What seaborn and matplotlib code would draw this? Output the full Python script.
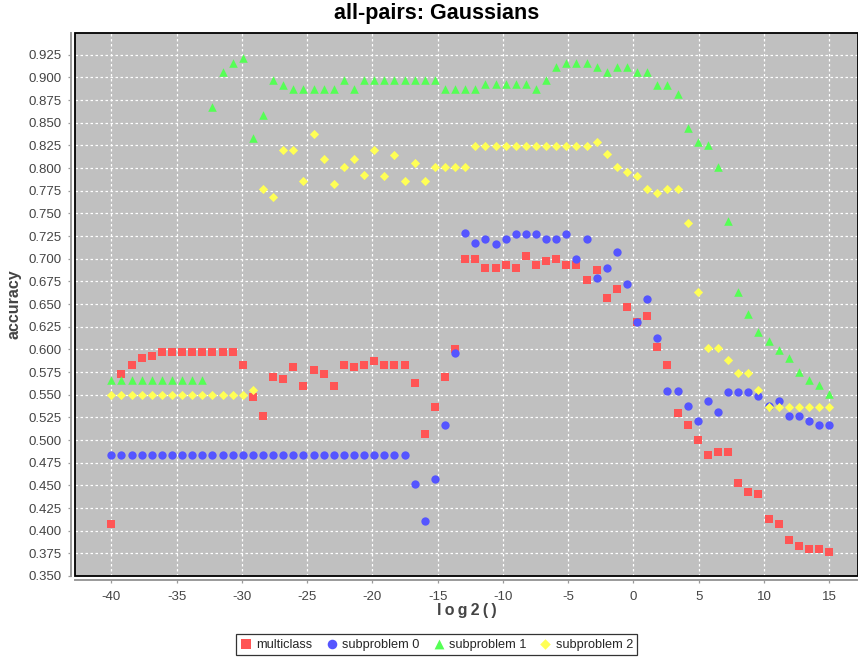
import numpy as np
import pandas as pd
import seaborn as sns
import matplotlib
matplotlib.use("Agg")
import matplotlib.pyplot as plt
from matplotlib.patches import Rectangle
from matplotlib.ticker import FixedLocator, FormatStrFormatter

# log2 sweep of the Gaussian width parameter
log2_gamma = np.linspace(-40, 15, 72)

multiclass = [
    0.407, 0.573, 0.583, 0.590, 0.593, 0.597, 0.597, 0.597, 0.597, 0.597,
    0.597, 0.597, 0.597, 0.583, 0.547, 0.527, 0.570, 0.567, 0.580, 0.560,
    0.577, 0.573, 0.560, 0.583, 0.580, 0.583, 0.587, 0.583, 0.583, 0.583,
    0.563, 0.507, 0.536, 0.570, 0.600, 0.700, 0.700, 0.690, 0.690, 0.693,
    0.690, 0.703, 0.693, 0.697, 0.700, 0.693, 0.693, 0.677, 0.687, 0.657,
    0.667, 0.647, 0.630, 0.637, 0.603, 0.583, 0.530, 0.517, 0.500, 0.483,
    0.487, 0.487, 0.453, 0.443, 0.440, 0.413, 0.407, 0.390, 0.383, 0.380,
    0.380, 0.377,
]

subproblem_0 = [
    0.484, 0.484, 0.484, 0.484, 0.484, 0.484, 0.484, 0.484, 0.484, 0.484,
    0.484, 0.484, 0.484, 0.484, 0.484, 0.484, 0.484, 0.484, 0.484, 0.484,
    0.484, 0.484, 0.484, 0.484, 0.484, 0.484, 0.484, 0.484, 0.484, 0.484,
    0.452, 0.411, 0.457, 0.516, 0.596, 0.728, 0.717, 0.722, 0.716, 0.722,
    0.727, 0.727, 0.727, 0.722, 0.722, 0.727, 0.700, 0.722, 0.679, 0.690,
    0.707, 0.672, 0.630, 0.656, 0.613, 0.554, 0.554, 0.538, 0.521, 0.543,
    0.531, 0.553, 0.553, 0.553, 0.548, 0.538, 0.543, 0.527, 0.527, 0.521,
    0.516, 0.516,
]

subproblem_1 = [
    0.566, 0.566, 0.566, 0.566, 0.566, 0.566, 0.566, 0.566, 0.566, 0.566,
    0.867, 0.906, 0.916, 0.921, 0.833, 0.858, 0.897, 0.892, 0.887, 0.887,
    0.887, 0.887, 0.887, 0.897, 0.887, 0.897, 0.897, 0.897, 0.897, 0.897,
    0.897, 0.897, 0.897, 0.887, 0.887, 0.887, 0.887, 0.893, 0.893, 0.893,
    0.893, 0.893, 0.887, 0.897, 0.911, 0.916, 0.916, 0.916, 0.911, 0.906,
    0.911, 0.911, 0.906, 0.906, 0.892, 0.892, 0.882, 0.844, 0.829, 0.825,
    0.801, 0.742, 0.663, 0.639, 0.619, 0.609, 0.599, 0.590, 0.575, 0.566,
    0.561, 0.551,
]

subproblem_2 = [
    0.550, 0.550, 0.550, 0.550, 0.550, 0.550, 0.550, 0.550, 0.550, 0.550,
    0.550, 0.550, 0.550, 0.550, 0.555, 0.777, 0.768, 0.820, 0.820, 0.786,
    0.838, 0.810, 0.782, 0.801, 0.810, 0.792, 0.820, 0.791, 0.814, 0.786,
    0.805, 0.786, 0.801, 0.801, 0.801, 0.801, 0.824, 0.824, 0.824, 0.824,
    0.824, 0.824, 0.824, 0.824, 0.824, 0.824, 0.824, 0.824, 0.829, 0.815,
    0.801, 0.796, 0.791, 0.777, 0.772, 0.777, 0.777, 0.739, 0.663, 0.602,
    0.602, 0.588, 0.574, 0.574, 0.555, 0.536, 0.536, 0.536, 0.536, 0.536,
    0.536, 0.536,
]

series_names = ["multiclass", "subproblem 0", "subproblem 1", "subproblem 2"]
series_colors = ["#FF5555", "#5555FF", "#55FF55", "#FFFF55"]
series_markers = ["s", "o", "^", "D"]
series_sizes = [32, 36, 38, 22]

x_ticks = [-40, -35, -30, -25, -20, -15, -10, -5, 0, 5, 10, 15]
y_ticks = [0.350, 0.375, 0.400, 0.425, 0.450, 0.475, 0.500, 0.525, 0.550,
           0.575, 0.600, 0.625, 0.650, 0.675, 0.700, 0.725, 0.750, 0.775,
           0.800, 0.825, 0.850, 0.875, 0.900, 0.925]

df = pd.DataFrame({
    "log2()": np.tile(log2_gamma, 4),
    "accuracy": multiclass + subproblem_0 + subproblem_1 + subproblem_2,
    "series": np.repeat(series_names, len(log2_gamma)),
})

sns.set_theme(style="white")
plt.rcParams["font.family"] = ["Liberation Sans", "DejaVu Sans"]
plt.rcParams["axes.unicode_minus"] = False

W, H = 858, 659
fig = plt.figure(figsize=(W / 100, H / 100), dpi=100)
ax = fig.add_axes([75 / W, 1 - 576 / H, (W - 75) / W, (576 - 33) / H])
ax.set_facecolor("#C0C0C0")

for name, color, marker, size in zip(series_names, series_colors,
                                     series_markers, series_sizes):
    sns.scatterplot(data=df[df["series"] == name], x="log2()", y="accuracy",
                    color=color, marker=marker, s=size, linewidth=0,
                    label=name, ax=ax, zorder=3)

ax.set_xlim(-42.78, 17.2)
ax.set_ylim(0.350, 0.9489)
ax.xaxis.set_major_locator(FixedLocator(x_ticks))
ax.yaxis.set_major_locator(FixedLocator(y_ticks))
ax.yaxis.set_major_formatter(FormatStrFormatter("%.3f"))

ax.grid(True, color="white", linestyle=(0, (2, 2)), linewidth=0.9)
ax.set_axisbelow(True)

# plot outline
ax.add_patch(Rectangle((0, 0), 1, 1, transform=ax.transAxes, fill=False,
                       edgecolor="black", linewidth=1.3, clip_on=False,
                       zorder=6))

# detached axis lines
for side in ["top", "right"]:
    ax.spines[side].set_visible(False)
for side in ["left", "bottom"]:
    ax.spines[side].set_color("#9a9a9a")
    ax.spines[side].set_linewidth(1.4)
    ax.spines[side].set_position(("outward", 3))

ax.tick_params(axis="both", which="major", direction="out", length=2.5,
               width=0.9, color="#9a9a9a", labelsize=9.5, labelcolor="#444444",
               left=True, bottom=True)
ax.tick_params(axis="y", pad=4)
ax.tick_params(axis="x", pad=5)

ax.set_xlabel("l\u2009o\u2009g\u20092\u2009(\u2009)", fontsize=11.5,
              fontweight="bold", color="#444444", labelpad=0)
ax.set_ylabel("accuracy", fontsize=11.5, fontweight="bold", color="#444444",
              labelpad=5)
fig.text(437 / W, 1 - 14 / H, "all-pairs: Gaussians", fontsize=15.5,
         fontweight="bold", ha="center", va="center", color="black")

ax.get_legend().remove()
handles, labels = ax.get_legend_handles_labels()
leg = fig.legend(handles, labels, loc="lower center", ncol=4,
                 bbox_to_anchor=(436.5 / W, 4 / H), borderaxespad=0,
                 fontsize=9.2, frameon=True, fancybox=False,
                 edgecolor="black", handletextpad=0.3, columnspacing=1.0,
                 borderpad=0.35, handlelength=1.0, markerscale=1.15)
leg.get_frame().set_linewidth(0.9)

fig.savefig("out.png", dpi=100)
